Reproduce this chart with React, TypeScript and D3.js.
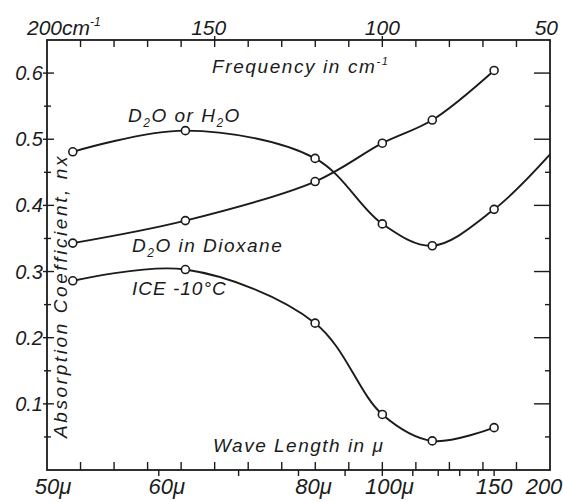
import React from 'react'
import * as d3 from 'd3'

// measured points, wave length in micron
const wavelengths = [52, 63, 83.3, 100, 117.5, 150]
const waterValues = [0.481, 0.513, 0.471, 0.372, 0.339, 0.394]
const dioxaneValues = [0.343, 0.377, 0.436, 0.494, 0.529, 0.604]
const iceValues = [0.286, 0.303, 0.222, 0.084, 0.044, 0.064]
// the D2O / H2O curve runs on past the last point to the frame
const waterTail = [200, 0.477]

const freqLabels = [200, 150, 100, 50]
const freqTicks = d3.range(190, 50, -10)
const waveLabels = [50, 60, 80, 100, 150, 200]
const waveLabelText = ['50\u03bc', '60\u03bc', '80\u03bc', '100\u03bc', '150', '200']
const waveTicks = [60, 70, 80, 90, 100, 110, 120, 130, 140, 150]
const yLabels = [0.1, 0.2, 0.3, 0.4, 0.5, 0.6]
const yTicks = [0.05, 0.1, 0.15, 0.2, 0.25, 0.3, 0.35, 0.4, 0.45, 0.5, 0.55, 0.6]

const W = 563
const H = 502
const ink = '#1b1b1b'
const font = '"Liberation Sans", Arial, sans-serif'

function App() {
  const left = 47, right = 550, top = 40, bottom = 470

  // the chart is linear in frequency (cm-1)
  const x = d3.scaleLinear().domain([200, 50]).range([left, right])
  const y = d3.scaleLinear().domain([0, 0.65]).range([bottom, top])
  const xw = (lam) => x(10000 / lam)

  const line = d3.line()
    .x(d => xw(d[0]))
    .y(d => y(d[1]))
    .curve(d3.curveCatmullRom.alpha(0.5))

  const water = wavelengths.map((w, i) => [w, waterValues[i]])
  const dioxane = wavelengths.map((w, i) => [w, dioxaneValues[i]])
  const ice = wavelengths.map((w, i) => [w, iceValues[i]])

  const series = [
    { pts: water, path: [...water, waterTail] },
    { pts: dioxane, path: dioxane },
    { pts: ice, path: ice },
  ]

  const topLabel = (f, i) => {
    if (f === 200) return (
      <text key={i} x={x(f) - 20} y={35} fontSize={21} textAnchor="start">
        200cm<tspan dy={-9} fontSize={12}>-1</tspan>
      </text>
    )
    const anchor = f === 50 ? 'end' : 'middle'
    const dx = f === 50 ? 8 : f === 150 ? -6 : 0
    return <text key={i} x={x(f) + dx} y={35} fontSize={21} textAnchor={anchor}>{f}</text>
  }

  const bottomDx = [6, 8, 15, 7, 0, -6]

  return (
    <svg width={W} height={H} style={{ position: 'absolute', left: 0, top: 0, background: '#fff' }}
      fontFamily={font} fontStyle="italic" fill={ink}>
      <rect x={0} y={0} width={W} height={H} fill="#fff" />

      {/* frame */}
      <rect x={left} y={top} width={right - left} height={bottom - top} fill="none" stroke={ink} strokeWidth={1.8} />

      {/* top axis, frequency */}
      {freqTicks.map((f, i) => (
        <line key={'t' + i} x1={x(f)} x2={x(f)} y1={f % 50 === 0 ? top - 4 : top} y2={top + 7} stroke={ink} strokeWidth={1.4} />
      ))}
      {freqLabels.map(topLabel)}

      {/* bottom axis: frequency ticks up, wave length ticks down */}
      {freqTicks.map((f, i) => (
        <line key={'b' + i} x1={x(f)} x2={x(f)} y1={bottom} y2={bottom - 8} stroke={ink} strokeWidth={1.4} />
      ))}
      {waveTicks.map((w, i) => (
        <line key={'w' + i} x1={xw(w)} x2={xw(w)} y1={bottom} y2={bottom + 6} stroke={ink} strokeWidth={1.4} />
      ))}
      {waveLabels.map((w, i) => (
        <text key={'wl' + i} x={xw(w) + bottomDx[i]} y={494} fontSize={22} textAnchor="middle">{waveLabelText[i]}</text>
      ))}

      {/* left and right axes */}
      {yTicks.map((v, i) => {
        const major = Math.round(v * 100) % 10 === 0
        return (
          <g key={'y' + i}>
            <line x1={left - (major ? 4 : 3)} x2={left + (major ? 7 : 4)} y1={y(v)} y2={y(v)} stroke={ink} strokeWidth={1.4} />
            <line x1={right - (major ? 16 : 5)} x2={right} y1={y(v)} y2={y(v)} stroke={ink} strokeWidth={1.4} />
          </g>
        )
      })}
      {yLabels.map((v, i) => (
        <text key={'yl' + i} x={43} y={y(v) + 7} fontSize={20} textAnchor="end">{v.toFixed(1)}</text>
      ))}

      {/* axis titles */}
      <text x={212} y={73} fontSize={19} letterSpacing={1.6}>
        Frequency in cm<tspan dy={-8} fontSize={11}>-1</tspan>
      </text>
      <text x={213} y={452} fontSize={19} letterSpacing={1.5}>Wave Length in {'\u03bc'}</text>
      <text transform="translate(67,438) rotate(-90)" fontSize={19} letterSpacing={2.6}>Absorption Coefficient, nx</text>

      {/* curves */}
      {series.map((s, i) => (
        <path key={'c' + i} d={line(s.path)} fill="none" stroke={ink} strokeWidth={1.9} />
      ))}
      {series.map((s, i) => s.pts.map((p, j) => (
        <circle key={'p' + i + '-' + j} cx={xw(p[0])} cy={y(p[1])} r={4} fill="#fff" stroke={ink} strokeWidth={1.6} />
      )))}

      {/* curve labels */}
      <text x={128} y={122} fontSize={19} letterSpacing={1.5}>
        D<tspan dy={5} fontSize={12}>2</tspan><tspan dy={-5}>O  or H</tspan><tspan dy={5} fontSize={12}>2</tspan><tspan dy={-5}>O</tspan>
      </text>
      <text x={132} y={252} fontSize={19} letterSpacing={1.5}>
        D<tspan dy={5} fontSize={12}>2</tspan><tspan dy={-5}>O in Dioxane</tspan>
      </text>
      <text x={132} y={295} fontSize={19} letterSpacing={1}>ICE -10{'\u00b0'}C</text>
    </svg>
  )
}

export default App
